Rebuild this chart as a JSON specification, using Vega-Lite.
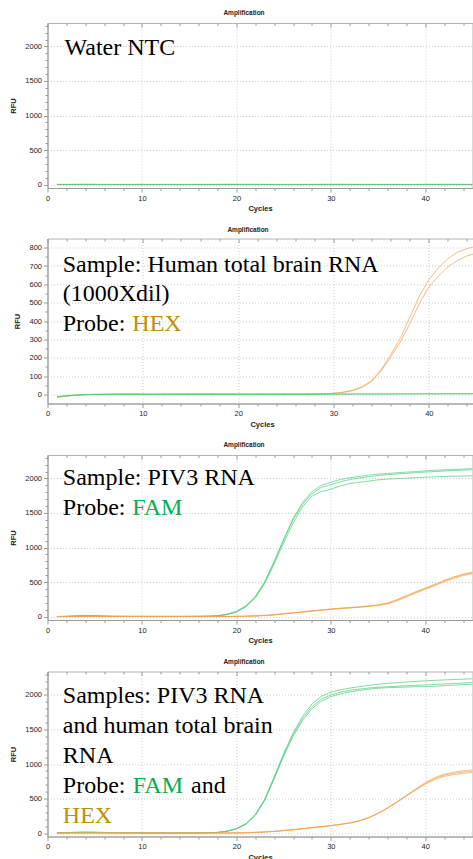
{
"$schema": "https://vega.github.io/schema/vega-lite/v6.json",
"padding": {"left": 8.5, "top": 9, "right": 0, "bottom": 0},
"spacing": 12.5,
"config": {
  "font": "Liberation Sans",
  "view": {"stroke": "#b4b4b4", "strokeWidth": 1},
  "axis": {"labelFont": "Liberation Sans", "labelFontSize": 7.5, "labelColor": "#222222", "titleFont": "Liberation Sans", "titleFontSize": 7.5, "titleFontWeight": "bold", "titleColor": "#222222", "domainColor": "#9a9a9a", "tickColor": "#9a9a9a", "gridColor": "#cccccc", "gridDash": [1, 2], "labelPadding": 2, "labelOverlap": false, "labelFlush": false},
  "title": {"font": "Liberation Sans", "fontSize": 6.5, "fontWeight": "bold", "color": "#222222", "offset": 5}
},
"datasets": {
"curves": [
{"p":1,"s":"1o1","d":"HEX","c":1,"v":1},{"p":1,"s":"1o1","d":"HEX","c":5,"v":2},{"p":1,"s":"1o1","d":"HEX","c":9,"v":1},{"p":1,"s":"1o1","d":"HEX","c":13,"v":2},{"p":1,"s":"1o1","d":"HEX","c":17,"v":1},{"p":1,"s":"1o1","d":"HEX","c":21,"v":2},{"p":1,"s":"1o1","d":"HEX","c":25,"v":1},{"p":1,"s":"1o1","d":"HEX","c":29,"v":2},{"p":1,"s":"1o1","d":"HEX","c":33,"v":1},{"p":1,"s":"1o1","d":"HEX","c":37,"v":2},{"p":1,"s":"1o1","d":"HEX","c":41,"v":1},{"p":1,"s":"1o1","d":"HEX","c":45,"v":2},
{"p":1,"s":"1o2","d":"HEX","c":1,"v":-1},{"p":1,"s":"1o2","d":"HEX","c":5,"v":0},{"p":1,"s":"1o2","d":"HEX","c":9,"v":1},{"p":1,"s":"1o2","d":"HEX","c":13,"v":0},{"p":1,"s":"1o2","d":"HEX","c":17,"v":-1},{"p":1,"s":"1o2","d":"HEX","c":21,"v":0},{"p":1,"s":"1o2","d":"HEX","c":25,"v":1},{"p":1,"s":"1o2","d":"HEX","c":29,"v":0},{"p":1,"s":"1o2","d":"HEX","c":33,"v":-1},{"p":1,"s":"1o2","d":"HEX","c":37,"v":0},{"p":1,"s":"1o2","d":"HEX","c":41,"v":1},{"p":1,"s":"1o2","d":"HEX","c":45,"v":0},
{"p":1,"s":"1g1","d":"FAM","c":1,"v":3},{"p":1,"s":"1g1","d":"FAM","c":4,"v":4},{"p":1,"s":"1g1","d":"FAM","c":7,"v":2},{"p":1,"s":"1g1","d":"FAM","c":10,"v":3},{"p":1,"s":"1g1","d":"FAM","c":13,"v":2},{"p":1,"s":"1g1","d":"FAM","c":16,"v":3},{"p":1,"s":"1g1","d":"FAM","c":19,"v":4},{"p":1,"s":"1g1","d":"FAM","c":22,"v":3},{"p":1,"s":"1g1","d":"FAM","c":25,"v":2},{"p":1,"s":"1g1","d":"FAM","c":28,"v":3},{"p":1,"s":"1g1","d":"FAM","c":31,"v":4},{"p":1,"s":"1g1","d":"FAM","c":34,"v":3},{"p":1,"s":"1g1","d":"FAM","c":37,"v":2},{"p":1,"s":"1g1","d":"FAM","c":40,"v":3},{"p":1,"s":"1g1","d":"FAM","c":43,"v":4},{"p":1,"s":"1g1","d":"FAM","c":45,"v":3},
{"p":1,"s":"1g2","d":"FAM","c":1,"v":0},{"p":1,"s":"1g2","d":"FAM","c":4,"v":1},{"p":1,"s":"1g2","d":"FAM","c":7,"v":0},{"p":1,"s":"1g2","d":"FAM","c":10,"v":-1},{"p":1,"s":"1g2","d":"FAM","c":13,"v":0},{"p":1,"s":"1g2","d":"FAM","c":16,"v":1},{"p":1,"s":"1g2","d":"FAM","c":19,"v":0},{"p":1,"s":"1g2","d":"FAM","c":22,"v":1},{"p":1,"s":"1g2","d":"FAM","c":25,"v":0},{"p":1,"s":"1g2","d":"FAM","c":28,"v":-1},{"p":1,"s":"1g2","d":"FAM","c":31,"v":0},{"p":1,"s":"1g2","d":"FAM","c":34,"v":1},{"p":1,"s":"1g2","d":"FAM","c":37,"v":0},{"p":1,"s":"1g2","d":"FAM","c":40,"v":1},{"p":1,"s":"1g2","d":"FAM","c":43,"v":0},{"p":1,"s":"1g2","d":"FAM","c":45,"v":0},

{"p":2,"s":"2o1","d":"HEX","c":1,"v":-15},{"p":2,"s":"2o1","d":"HEX","c":2,"v":-9},{"p":2,"s":"2o1","d":"HEX","c":3,"v":-4},{"p":2,"s":"2o1","d":"HEX","c":4,"v":-1},{"p":2,"s":"2o1","d":"HEX","c":5,"v":0},{"p":2,"s":"2o1","d":"HEX","c":8,"v":2},{"p":2,"s":"2o1","d":"HEX","c":11,"v":1},{"p":2,"s":"2o1","d":"HEX","c":14,"v":2},{"p":2,"s":"2o1","d":"HEX","c":17,"v":2},{"p":2,"s":"2o1","d":"HEX","c":20,"v":1},{"p":2,"s":"2o1","d":"HEX","c":23,"v":1},{"p":2,"s":"2o1","d":"HEX","c":26,"v":2},{"p":2,"s":"2o1","d":"HEX","c":28,"v":2},{"p":2,"s":"2o1","d":"HEX","c":29,"v":3},{"p":2,"s":"2o1","d":"HEX","c":30,"v":6},{"p":2,"s":"2o1","d":"HEX","c":31,"v":12},{"p":2,"s":"2o1","d":"HEX","c":32,"v":22},{"p":2,"s":"2o1","d":"HEX","c":33,"v":42},{"p":2,"s":"2o1","d":"HEX","c":34,"v":75},{"p":2,"s":"2o1","d":"HEX","c":35,"v":135},{"p":2,"s":"2o1","d":"HEX","c":36,"v":215},{"p":2,"s":"2o1","d":"HEX","c":37,"v":305},{"p":2,"s":"2o1","d":"HEX","c":38,"v":420},{"p":2,"s":"2o1","d":"HEX","c":39,"v":535},{"p":2,"s":"2o1","d":"HEX","c":40,"v":625},{"p":2,"s":"2o1","d":"HEX","c":41,"v":690},{"p":2,"s":"2o1","d":"HEX","c":42,"v":740},{"p":2,"s":"2o1","d":"HEX","c":43,"v":775},{"p":2,"s":"2o1","d":"HEX","c":44,"v":795},{"p":2,"s":"2o1","d":"HEX","c":45,"v":808},
{"p":2,"s":"2o2","d":"HEX","c":1,"v":-16},{"p":2,"s":"2o2","d":"HEX","c":2,"v":-10},{"p":2,"s":"2o2","d":"HEX","c":3,"v":-5},{"p":2,"s":"2o2","d":"HEX","c":4,"v":-2},{"p":2,"s":"2o2","d":"HEX","c":5,"v":-1},{"p":2,"s":"2o2","d":"HEX","c":8,"v":1},{"p":2,"s":"2o2","d":"HEX","c":11,"v":1},{"p":2,"s":"2o2","d":"HEX","c":14,"v":1},{"p":2,"s":"2o2","d":"HEX","c":17,"v":2},{"p":2,"s":"2o2","d":"HEX","c":20,"v":1},{"p":2,"s":"2o2","d":"HEX","c":23,"v":1},{"p":2,"s":"2o2","d":"HEX","c":26,"v":1},{"p":2,"s":"2o2","d":"HEX","c":28,"v":2},{"p":2,"s":"2o2","d":"HEX","c":29,"v":3},{"p":2,"s":"2o2","d":"HEX","c":30,"v":5},{"p":2,"s":"2o2","d":"HEX","c":31,"v":10},{"p":2,"s":"2o2","d":"HEX","c":32,"v":20},{"p":2,"s":"2o2","d":"HEX","c":33,"v":38},{"p":2,"s":"2o2","d":"HEX","c":34,"v":70},{"p":2,"s":"2o2","d":"HEX","c":35,"v":128},{"p":2,"s":"2o2","d":"HEX","c":36,"v":203},{"p":2,"s":"2o2","d":"HEX","c":37,"v":285},{"p":2,"s":"2o2","d":"HEX","c":38,"v":385},{"p":2,"s":"2o2","d":"HEX","c":39,"v":495},{"p":2,"s":"2o2","d":"HEX","c":40,"v":585},{"p":2,"s":"2o2","d":"HEX","c":41,"v":645},{"p":2,"s":"2o2","d":"HEX","c":42,"v":695},{"p":2,"s":"2o2","d":"HEX","c":43,"v":730},{"p":2,"s":"2o2","d":"HEX","c":44,"v":755},{"p":2,"s":"2o2","d":"HEX","c":45,"v":770},
{"p":2,"s":"2g1","d":"FAM","c":1,"v":-12},{"p":2,"s":"2g1","d":"FAM","c":2,"v":-7},{"p":2,"s":"2g1","d":"FAM","c":3,"v":-3},{"p":2,"s":"2g1","d":"FAM","c":4,"v":-1},{"p":2,"s":"2g1","d":"FAM","c":5,"v":0},{"p":2,"s":"2g1","d":"FAM","c":8,"v":1},{"p":2,"s":"2g1","d":"FAM","c":11,"v":0},{"p":2,"s":"2g1","d":"FAM","c":14,"v":1},{"p":2,"s":"2g1","d":"FAM","c":17,"v":0},{"p":2,"s":"2g1","d":"FAM","c":20,"v":1},{"p":2,"s":"2g1","d":"FAM","c":23,"v":0},{"p":2,"s":"2g1","d":"FAM","c":26,"v":1},{"p":2,"s":"2g1","d":"FAM","c":29,"v":1},{"p":2,"s":"2g1","d":"FAM","c":32,"v":2},{"p":2,"s":"2g1","d":"FAM","c":35,"v":2},{"p":2,"s":"2g1","d":"FAM","c":38,"v":3},{"p":2,"s":"2g1","d":"FAM","c":41,"v":3},{"p":2,"s":"2g1","d":"FAM","c":45,"v":4},
{"p":2,"s":"2g2","d":"FAM","c":1,"v":-14},{"p":2,"s":"2g2","d":"FAM","c":2,"v":-9},{"p":2,"s":"2g2","d":"FAM","c":3,"v":-5},{"p":2,"s":"2g2","d":"FAM","c":4,"v":-2},{"p":2,"s":"2g2","d":"FAM","c":5,"v":-1},{"p":2,"s":"2g2","d":"FAM","c":8,"v":0},{"p":2,"s":"2g2","d":"FAM","c":11,"v":-1},{"p":2,"s":"2g2","d":"FAM","c":14,"v":0},{"p":2,"s":"2g2","d":"FAM","c":17,"v":1},{"p":2,"s":"2g2","d":"FAM","c":20,"v":0},{"p":2,"s":"2g2","d":"FAM","c":23,"v":1},{"p":2,"s":"2g2","d":"FAM","c":26,"v":0},{"p":2,"s":"2g2","d":"FAM","c":29,"v":1},{"p":2,"s":"2g2","d":"FAM","c":32,"v":1},{"p":2,"s":"2g2","d":"FAM","c":35,"v":2},{"p":2,"s":"2g2","d":"FAM","c":38,"v":2},{"p":2,"s":"2g2","d":"FAM","c":41,"v":3},{"p":2,"s":"2g2","d":"FAM","c":45,"v":3},

{"p":3,"s":"3g1","d":"FAM","c":1,"v":0},{"p":3,"s":"3g1","d":"FAM","c":2,"v":3},{"p":3,"s":"3g1","d":"FAM","c":3,"v":8},{"p":3,"s":"3g1","d":"FAM","c":4,"v":12},{"p":3,"s":"3g1","d":"FAM","c":5,"v":10},{"p":3,"s":"3g1","d":"FAM","c":6,"v":6},{"p":3,"s":"3g1","d":"FAM","c":7,"v":3},{"p":3,"s":"3g1","d":"FAM","c":10,"v":2},{"p":3,"s":"3g1","d":"FAM","c":13,"v":2},{"p":3,"s":"3g1","d":"FAM","c":16,"v":3},{"p":3,"s":"3g1","d":"FAM","c":17,"v":5},{"p":3,"s":"3g1","d":"FAM","c":18,"v":12},{"p":3,"s":"3g1","d":"FAM","c":19,"v":33},{"p":3,"s":"3g1","d":"FAM","c":20,"v":75},{"p":3,"s":"3g1","d":"FAM","c":21,"v":155},{"p":3,"s":"3g1","d":"FAM","c":22,"v":290},{"p":3,"s":"3g1","d":"FAM","c":23,"v":505},{"p":3,"s":"3g1","d":"FAM","c":24,"v":800},{"p":3,"s":"3g1","d":"FAM","c":25,"v":1120},{"p":3,"s":"3g1","d":"FAM","c":26,"v":1420},{"p":3,"s":"3g1","d":"FAM","c":27,"v":1650},{"p":3,"s":"3g1","d":"FAM","c":28,"v":1810},{"p":3,"s":"3g1","d":"FAM","c":29,"v":1900},{"p":3,"s":"3g1","d":"FAM","c":30,"v":1945},{"p":3,"s":"3g1","d":"FAM","c":31,"v":1985},{"p":3,"s":"3g1","d":"FAM","c":32,"v":2010},{"p":3,"s":"3g1","d":"FAM","c":33,"v":2030},{"p":3,"s":"3g1","d":"FAM","c":34,"v":2048},{"p":3,"s":"3g1","d":"FAM","c":35,"v":2063},{"p":3,"s":"3g1","d":"FAM","c":36,"v":2073},{"p":3,"s":"3g1","d":"FAM","c":37,"v":2083},{"p":3,"s":"3g1","d":"FAM","c":38,"v":2092},{"p":3,"s":"3g1","d":"FAM","c":39,"v":2100},{"p":3,"s":"3g1","d":"FAM","c":40,"v":2110},{"p":3,"s":"3g1","d":"FAM","c":41,"v":2118},{"p":3,"s":"3g1","d":"FAM","c":42,"v":2125},{"p":3,"s":"3g1","d":"FAM","c":43,"v":2131},{"p":3,"s":"3g1","d":"FAM","c":44,"v":2137},{"p":3,"s":"3g1","d":"FAM","c":45,"v":2141},
{"p":3,"s":"3g2","d":"FAM","c":1,"v":-2},{"p":3,"s":"3g2","d":"FAM","c":2,"v":2},{"p":3,"s":"3g2","d":"FAM","c":3,"v":6},{"p":3,"s":"3g2","d":"FAM","c":4,"v":10},{"p":3,"s":"3g2","d":"FAM","c":5,"v":9},{"p":3,"s":"3g2","d":"FAM","c":6,"v":5},{"p":3,"s":"3g2","d":"FAM","c":7,"v":2},{"p":3,"s":"3g2","d":"FAM","c":10,"v":1},{"p":3,"s":"3g2","d":"FAM","c":13,"v":1},{"p":3,"s":"3g2","d":"FAM","c":16,"v":2},{"p":3,"s":"3g2","d":"FAM","c":17,"v":4},{"p":3,"s":"3g2","d":"FAM","c":18,"v":11},{"p":3,"s":"3g2","d":"FAM","c":19,"v":31},{"p":3,"s":"3g2","d":"FAM","c":20,"v":70},{"p":3,"s":"3g2","d":"FAM","c":21,"v":148},{"p":3,"s":"3g2","d":"FAM","c":22,"v":280},{"p":3,"s":"3g2","d":"FAM","c":23,"v":495},{"p":3,"s":"3g2","d":"FAM","c":24,"v":790},{"p":3,"s":"3g2","d":"FAM","c":25,"v":1105},{"p":3,"s":"3g2","d":"FAM","c":26,"v":1400},{"p":3,"s":"3g2","d":"FAM","c":27,"v":1625},{"p":3,"s":"3g2","d":"FAM","c":28,"v":1780},{"p":3,"s":"3g2","d":"FAM","c":29,"v":1870},{"p":3,"s":"3g2","d":"FAM","c":30,"v":1910},{"p":3,"s":"3g2","d":"FAM","c":31,"v":1950},{"p":3,"s":"3g2","d":"FAM","c":32,"v":1985},{"p":3,"s":"3g2","d":"FAM","c":33,"v":2005},{"p":3,"s":"3g2","d":"FAM","c":34,"v":2025},{"p":3,"s":"3g2","d":"FAM","c":35,"v":2043},{"p":3,"s":"3g2","d":"FAM","c":36,"v":2055},{"p":3,"s":"3g2","d":"FAM","c":37,"v":2065},{"p":3,"s":"3g2","d":"FAM","c":38,"v":2075},{"p":3,"s":"3g2","d":"FAM","c":39,"v":2084},{"p":3,"s":"3g2","d":"FAM","c":40,"v":2092},{"p":3,"s":"3g2","d":"FAM","c":41,"v":2100},{"p":3,"s":"3g2","d":"FAM","c":42,"v":2108},{"p":3,"s":"3g2","d":"FAM","c":43,"v":2115},{"p":3,"s":"3g2","d":"FAM","c":44,"v":2121},{"p":3,"s":"3g2","d":"FAM","c":45,"v":2126},
{"p":3,"s":"3g3","d":"FAM","c":1,"v":1},{"p":3,"s":"3g3","d":"FAM","c":2,"v":4},{"p":3,"s":"3g3","d":"FAM","c":3,"v":9},{"p":3,"s":"3g3","d":"FAM","c":4,"v":13},{"p":3,"s":"3g3","d":"FAM","c":5,"v":11},{"p":3,"s":"3g3","d":"FAM","c":6,"v":7},{"p":3,"s":"3g3","d":"FAM","c":7,"v":4},{"p":3,"s":"3g3","d":"FAM","c":10,"v":3},{"p":3,"s":"3g3","d":"FAM","c":13,"v":3},{"p":3,"s":"3g3","d":"FAM","c":16,"v":4},{"p":3,"s":"3g3","d":"FAM","c":17,"v":6},{"p":3,"s":"3g3","d":"FAM","c":18,"v":11},{"p":3,"s":"3g3","d":"FAM","c":19,"v":29},{"p":3,"s":"3g3","d":"FAM","c":20,"v":65},{"p":3,"s":"3g3","d":"FAM","c":21,"v":140},{"p":3,"s":"3g3","d":"FAM","c":22,"v":268},{"p":3,"s":"3g3","d":"FAM","c":23,"v":475},{"p":3,"s":"3g3","d":"FAM","c":24,"v":760},{"p":3,"s":"3g3","d":"FAM","c":25,"v":1065},{"p":3,"s":"3g3","d":"FAM","c":26,"v":1350},{"p":3,"s":"3g3","d":"FAM","c":27,"v":1590},{"p":3,"s":"3g3","d":"FAM","c":28,"v":1745},{"p":3,"s":"3g3","d":"FAM","c":29,"v":1810},{"p":3,"s":"3g3","d":"FAM","c":30,"v":1845},{"p":3,"s":"3g3","d":"FAM","c":31,"v":1890},{"p":3,"s":"3g3","d":"FAM","c":32,"v":1925},{"p":3,"s":"3g3","d":"FAM","c":33,"v":1945},{"p":3,"s":"3g3","d":"FAM","c":34,"v":1962},{"p":3,"s":"3g3","d":"FAM","c":35,"v":1980},{"p":3,"s":"3g3","d":"FAM","c":36,"v":1990},{"p":3,"s":"3g3","d":"FAM","c":37,"v":1998},{"p":3,"s":"3g3","d":"FAM","c":38,"v":2005},{"p":3,"s":"3g3","d":"FAM","c":39,"v":2012},{"p":3,"s":"3g3","d":"FAM","c":40,"v":2019},{"p":3,"s":"3g3","d":"FAM","c":41,"v":2024},{"p":3,"s":"3g3","d":"FAM","c":42,"v":2029},{"p":3,"s":"3g3","d":"FAM","c":43,"v":2033},{"p":3,"s":"3g3","d":"FAM","c":44,"v":2036},{"p":3,"s":"3g3","d":"FAM","c":45,"v":2039},
{"p":3,"s":"3o1","d":"HEX","c":1,"v":0},{"p":3,"s":"3o1","d":"HEX","c":4,"v":2},{"p":3,"s":"3o1","d":"HEX","c":7,"v":1},{"p":3,"s":"3o1","d":"HEX","c":10,"v":0},{"p":3,"s":"3o1","d":"HEX","c":13,"v":1},{"p":3,"s":"3o1","d":"HEX","c":16,"v":0},{"p":3,"s":"3o1","d":"HEX","c":19,"v":1},{"p":3,"s":"3o1","d":"HEX","c":20,"v":2},{"p":3,"s":"3o1","d":"HEX","c":21,"v":5},{"p":3,"s":"3o1","d":"HEX","c":22,"v":9},{"p":3,"s":"3o1","d":"HEX","c":23,"v":15},{"p":3,"s":"3o1","d":"HEX","c":24,"v":25},{"p":3,"s":"3o1","d":"HEX","c":25,"v":40},{"p":3,"s":"3o1","d":"HEX","c":26,"v":53},{"p":3,"s":"3o1","d":"HEX","c":27,"v":66},{"p":3,"s":"3o1","d":"HEX","c":28,"v":80},{"p":3,"s":"3o1","d":"HEX","c":29,"v":94},{"p":3,"s":"3o1","d":"HEX","c":30,"v":107},{"p":3,"s":"3o1","d":"HEX","c":31,"v":118},{"p":3,"s":"3o1","d":"HEX","c":32,"v":128},{"p":3,"s":"3o1","d":"HEX","c":33,"v":138},{"p":3,"s":"3o1","d":"HEX","c":34,"v":150},{"p":3,"s":"3o1","d":"HEX","c":35,"v":165},{"p":3,"s":"3o1","d":"HEX","c":36,"v":190},{"p":3,"s":"3o1","d":"HEX","c":37,"v":238},{"p":3,"s":"3o1","d":"HEX","c":38,"v":295},{"p":3,"s":"3o1","d":"HEX","c":39,"v":352},{"p":3,"s":"3o1","d":"HEX","c":40,"v":405},{"p":3,"s":"3o1","d":"HEX","c":41,"v":458},{"p":3,"s":"3o1","d":"HEX","c":42,"v":515},{"p":3,"s":"3o1","d":"HEX","c":43,"v":565},{"p":3,"s":"3o1","d":"HEX","c":44,"v":605},{"p":3,"s":"3o1","d":"HEX","c":45,"v":635},
{"p":3,"s":"3o2","d":"HEX","c":1,"v":1},{"p":3,"s":"3o2","d":"HEX","c":4,"v":0},{"p":3,"s":"3o2","d":"HEX","c":7,"v":2},{"p":3,"s":"3o2","d":"HEX","c":10,"v":1},{"p":3,"s":"3o2","d":"HEX","c":13,"v":0},{"p":3,"s":"3o2","d":"HEX","c":16,"v":1},{"p":3,"s":"3o2","d":"HEX","c":19,"v":0},{"p":3,"s":"3o2","d":"HEX","c":20,"v":1},{"p":3,"s":"3o2","d":"HEX","c":21,"v":4},{"p":3,"s":"3o2","d":"HEX","c":22,"v":8},{"p":3,"s":"3o2","d":"HEX","c":23,"v":14},{"p":3,"s":"3o2","d":"HEX","c":24,"v":23},{"p":3,"s":"3o2","d":"HEX","c":25,"v":38},{"p":3,"s":"3o2","d":"HEX","c":26,"v":51},{"p":3,"s":"3o2","d":"HEX","c":27,"v":63},{"p":3,"s":"3o2","d":"HEX","c":28,"v":77},{"p":3,"s":"3o2","d":"HEX","c":29,"v":90},{"p":3,"s":"3o2","d":"HEX","c":30,"v":103},{"p":3,"s":"3o2","d":"HEX","c":31,"v":114},{"p":3,"s":"3o2","d":"HEX","c":32,"v":124},{"p":3,"s":"3o2","d":"HEX","c":33,"v":134},{"p":3,"s":"3o2","d":"HEX","c":34,"v":146},{"p":3,"s":"3o2","d":"HEX","c":35,"v":160},{"p":3,"s":"3o2","d":"HEX","c":36,"v":183},{"p":3,"s":"3o2","d":"HEX","c":37,"v":228},{"p":3,"s":"3o2","d":"HEX","c":38,"v":283},{"p":3,"s":"3o2","d":"HEX","c":39,"v":340},{"p":3,"s":"3o2","d":"HEX","c":40,"v":393},{"p":3,"s":"3o2","d":"HEX","c":41,"v":446},{"p":3,"s":"3o2","d":"HEX","c":42,"v":503},{"p":3,"s":"3o2","d":"HEX","c":43,"v":552},{"p":3,"s":"3o2","d":"HEX","c":44,"v":592},{"p":3,"s":"3o2","d":"HEX","c":45,"v":622},
{"p":3,"s":"3o3","d":"HEX","c":1,"v":-1},{"p":3,"s":"3o3","d":"HEX","c":4,"v":1},{"p":3,"s":"3o3","d":"HEX","c":7,"v":0},{"p":3,"s":"3o3","d":"HEX","c":10,"v":2},{"p":3,"s":"3o3","d":"HEX","c":13,"v":1},{"p":3,"s":"3o3","d":"HEX","c":16,"v":0},{"p":3,"s":"3o3","d":"HEX","c":19,"v":2},{"p":3,"s":"3o3","d":"HEX","c":20,"v":3},{"p":3,"s":"3o3","d":"HEX","c":21,"v":6},{"p":3,"s":"3o3","d":"HEX","c":22,"v":11},{"p":3,"s":"3o3","d":"HEX","c":23,"v":17},{"p":3,"s":"3o3","d":"HEX","c":24,"v":27},{"p":3,"s":"3o3","d":"HEX","c":25,"v":43},{"p":3,"s":"3o3","d":"HEX","c":26,"v":56},{"p":3,"s":"3o3","d":"HEX","c":27,"v":70},{"p":3,"s":"3o3","d":"HEX","c":28,"v":83},{"p":3,"s":"3o3","d":"HEX","c":29,"v":97},{"p":3,"s":"3o3","d":"HEX","c":30,"v":110},{"p":3,"s":"3o3","d":"HEX","c":31,"v":121},{"p":3,"s":"3o3","d":"HEX","c":32,"v":131},{"p":3,"s":"3o3","d":"HEX","c":33,"v":141},{"p":3,"s":"3o3","d":"HEX","c":34,"v":154},{"p":3,"s":"3o3","d":"HEX","c":35,"v":170},{"p":3,"s":"3o3","d":"HEX","c":36,"v":196},{"p":3,"s":"3o3","d":"HEX","c":37,"v":246},{"p":3,"s":"3o3","d":"HEX","c":38,"v":303},{"p":3,"s":"3o3","d":"HEX","c":39,"v":361},{"p":3,"s":"3o3","d":"HEX","c":40,"v":415},{"p":3,"s":"3o3","d":"HEX","c":41,"v":468},{"p":3,"s":"3o3","d":"HEX","c":42,"v":525},{"p":3,"s":"3o3","d":"HEX","c":43,"v":575},{"p":3,"s":"3o3","d":"HEX","c":44,"v":614},{"p":3,"s":"3o3","d":"HEX","c":45,"v":642},

{"p":4,"s":"4g1","d":"FAM","c":1,"v":2},{"p":4,"s":"4g1","d":"FAM","c":2,"v":6},{"p":4,"s":"4g1","d":"FAM","c":3,"v":10},{"p":4,"s":"4g1","d":"FAM","c":4,"v":12},{"p":4,"s":"4g1","d":"FAM","c":5,"v":11},{"p":4,"s":"4g1","d":"FAM","c":6,"v":8},{"p":4,"s":"4g1","d":"FAM","c":7,"v":5},{"p":4,"s":"4g1","d":"FAM","c":10,"v":3},{"p":4,"s":"4g1","d":"FAM","c":13,"v":2},{"p":4,"s":"4g1","d":"FAM","c":16,"v":3},{"p":4,"s":"4g1","d":"FAM","c":17,"v":5},{"p":4,"s":"4g1","d":"FAM","c":18,"v":10},{"p":4,"s":"4g1","d":"FAM","c":19,"v":28},{"p":4,"s":"4g1","d":"FAM","c":20,"v":65},{"p":4,"s":"4g1","d":"FAM","c":21,"v":135},{"p":4,"s":"4g1","d":"FAM","c":22,"v":270},{"p":4,"s":"4g1","d":"FAM","c":23,"v":490},{"p":4,"s":"4g1","d":"FAM","c":24,"v":815},{"p":4,"s":"4g1","d":"FAM","c":25,"v":1150},{"p":4,"s":"4g1","d":"FAM","c":26,"v":1450},{"p":4,"s":"4g1","d":"FAM","c":27,"v":1690},{"p":4,"s":"4g1","d":"FAM","c":28,"v":1870},{"p":4,"s":"4g1","d":"FAM","c":29,"v":1980},{"p":4,"s":"4g1","d":"FAM","c":30,"v":2040},{"p":4,"s":"4g1","d":"FAM","c":31,"v":2075},{"p":4,"s":"4g1","d":"FAM","c":32,"v":2100},{"p":4,"s":"4g1","d":"FAM","c":33,"v":2120},{"p":4,"s":"4g1","d":"FAM","c":34,"v":2140},{"p":4,"s":"4g1","d":"FAM","c":35,"v":2156},{"p":4,"s":"4g1","d":"FAM","c":36,"v":2168},{"p":4,"s":"4g1","d":"FAM","c":37,"v":2178},{"p":4,"s":"4g1","d":"FAM","c":38,"v":2188},{"p":4,"s":"4g1","d":"FAM","c":39,"v":2197},{"p":4,"s":"4g1","d":"FAM","c":40,"v":2205},{"p":4,"s":"4g1","d":"FAM","c":41,"v":2212},{"p":4,"s":"4g1","d":"FAM","c":42,"v":2218},{"p":4,"s":"4g1","d":"FAM","c":43,"v":2224},{"p":4,"s":"4g1","d":"FAM","c":44,"v":2229},{"p":4,"s":"4g1","d":"FAM","c":45,"v":2234},
{"p":4,"s":"4g2","d":"FAM","c":1,"v":0},{"p":4,"s":"4g2","d":"FAM","c":2,"v":4},{"p":4,"s":"4g2","d":"FAM","c":3,"v":8},{"p":4,"s":"4g2","d":"FAM","c":4,"v":10},{"p":4,"s":"4g2","d":"FAM","c":5,"v":9},{"p":4,"s":"4g2","d":"FAM","c":6,"v":6},{"p":4,"s":"4g2","d":"FAM","c":7,"v":3},{"p":4,"s":"4g2","d":"FAM","c":10,"v":2},{"p":4,"s":"4g2","d":"FAM","c":13,"v":1},{"p":4,"s":"4g2","d":"FAM","c":16,"v":2},{"p":4,"s":"4g2","d":"FAM","c":17,"v":4},{"p":4,"s":"4g2","d":"FAM","c":18,"v":9},{"p":4,"s":"4g2","d":"FAM","c":19,"v":26},{"p":4,"s":"4g2","d":"FAM","c":20,"v":62},{"p":4,"s":"4g2","d":"FAM","c":21,"v":130},{"p":4,"s":"4g2","d":"FAM","c":22,"v":262},{"p":4,"s":"4g2","d":"FAM","c":23,"v":480},{"p":4,"s":"4g2","d":"FAM","c":24,"v":800},{"p":4,"s":"4g2","d":"FAM","c":25,"v":1130},{"p":4,"s":"4g2","d":"FAM","c":26,"v":1425},{"p":4,"s":"4g2","d":"FAM","c":27,"v":1660},{"p":4,"s":"4g2","d":"FAM","c":28,"v":1830},{"p":4,"s":"4g2","d":"FAM","c":29,"v":1940},{"p":4,"s":"4g2","d":"FAM","c":30,"v":2000},{"p":4,"s":"4g2","d":"FAM","c":31,"v":2040},{"p":4,"s":"4g2","d":"FAM","c":32,"v":2068},{"p":4,"s":"4g2","d":"FAM","c":33,"v":2085},{"p":4,"s":"4g2","d":"FAM","c":34,"v":2100},{"p":4,"s":"4g2","d":"FAM","c":35,"v":2112},{"p":4,"s":"4g2","d":"FAM","c":36,"v":2120},{"p":4,"s":"4g2","d":"FAM","c":37,"v":2127},{"p":4,"s":"4g2","d":"FAM","c":38,"v":2134},{"p":4,"s":"4g2","d":"FAM","c":39,"v":2140},{"p":4,"s":"4g2","d":"FAM","c":40,"v":2146},{"p":4,"s":"4g2","d":"FAM","c":41,"v":2152},{"p":4,"s":"4g2","d":"FAM","c":42,"v":2160},{"p":4,"s":"4g2","d":"FAM","c":43,"v":2167},{"p":4,"s":"4g2","d":"FAM","c":44,"v":2174},{"p":4,"s":"4g2","d":"FAM","c":45,"v":2180},
{"p":4,"s":"4g3","d":"FAM","c":1,"v":3},{"p":4,"s":"4g3","d":"FAM","c":2,"v":7},{"p":4,"s":"4g3","d":"FAM","c":3,"v":11},{"p":4,"s":"4g3","d":"FAM","c":4,"v":13},{"p":4,"s":"4g3","d":"FAM","c":5,"v":12},{"p":4,"s":"4g3","d":"FAM","c":6,"v":9},{"p":4,"s":"4g3","d":"FAM","c":7,"v":6},{"p":4,"s":"4g3","d":"FAM","c":10,"v":4},{"p":4,"s":"4g3","d":"FAM","c":13,"v":3},{"p":4,"s":"4g3","d":"FAM","c":16,"v":4},{"p":4,"s":"4g3","d":"FAM","c":17,"v":6},{"p":4,"s":"4g3","d":"FAM","c":18,"v":9},{"p":4,"s":"4g3","d":"FAM","c":19,"v":24},{"p":4,"s":"4g3","d":"FAM","c":20,"v":58},{"p":4,"s":"4g3","d":"FAM","c":21,"v":125},{"p":4,"s":"4g3","d":"FAM","c":22,"v":255},{"p":4,"s":"4g3","d":"FAM","c":23,"v":470},{"p":4,"s":"4g3","d":"FAM","c":24,"v":785},{"p":4,"s":"4g3","d":"FAM","c":25,"v":1110},{"p":4,"s":"4g3","d":"FAM","c":26,"v":1400},{"p":4,"s":"4g3","d":"FAM","c":27,"v":1630},{"p":4,"s":"4g3","d":"FAM","c":28,"v":1800},{"p":4,"s":"4g3","d":"FAM","c":29,"v":1910},{"p":4,"s":"4g3","d":"FAM","c":30,"v":1976},{"p":4,"s":"4g3","d":"FAM","c":31,"v":2015},{"p":4,"s":"4g3","d":"FAM","c":32,"v":2045},{"p":4,"s":"4g3","d":"FAM","c":33,"v":2065},{"p":4,"s":"4g3","d":"FAM","c":34,"v":2082},{"p":4,"s":"4g3","d":"FAM","c":35,"v":2098},{"p":4,"s":"4g3","d":"FAM","c":36,"v":2105},{"p":4,"s":"4g3","d":"FAM","c":37,"v":2110},{"p":4,"s":"4g3","d":"FAM","c":38,"v":2115},{"p":4,"s":"4g3","d":"FAM","c":39,"v":2119},{"p":4,"s":"4g3","d":"FAM","c":40,"v":2122},{"p":4,"s":"4g3","d":"FAM","c":41,"v":2127},{"p":4,"s":"4g3","d":"FAM","c":42,"v":2135},{"p":4,"s":"4g3","d":"FAM","c":43,"v":2142},{"p":4,"s":"4g3","d":"FAM","c":44,"v":2150},{"p":4,"s":"4g3","d":"FAM","c":45,"v":2156},
{"p":4,"s":"4o1","d":"HEX","c":1,"v":0},{"p":4,"s":"4o1","d":"HEX","c":4,"v":1},{"p":4,"s":"4o1","d":"HEX","c":7,"v":0},{"p":4,"s":"4o1","d":"HEX","c":10,"v":1},{"p":4,"s":"4o1","d":"HEX","c":13,"v":0},{"p":4,"s":"4o1","d":"HEX","c":16,"v":1},{"p":4,"s":"4o1","d":"HEX","c":19,"v":1},{"p":4,"s":"4o1","d":"HEX","c":20,"v":2},{"p":4,"s":"4o1","d":"HEX","c":21,"v":5},{"p":4,"s":"4o1","d":"HEX","c":22,"v":10},{"p":4,"s":"4o1","d":"HEX","c":23,"v":15},{"p":4,"s":"4o1","d":"HEX","c":24,"v":24},{"p":4,"s":"4o1","d":"HEX","c":25,"v":36},{"p":4,"s":"4o1","d":"HEX","c":26,"v":48},{"p":4,"s":"4o1","d":"HEX","c":27,"v":62},{"p":4,"s":"4o1","d":"HEX","c":28,"v":78},{"p":4,"s":"4o1","d":"HEX","c":29,"v":92},{"p":4,"s":"4o1","d":"HEX","c":30,"v":107},{"p":4,"s":"4o1","d":"HEX","c":31,"v":125},{"p":4,"s":"4o1","d":"HEX","c":32,"v":145},{"p":4,"s":"4o1","d":"HEX","c":33,"v":175},{"p":4,"s":"4o1","d":"HEX","c":34,"v":220},{"p":4,"s":"4o1","d":"HEX","c":35,"v":283},{"p":4,"s":"4o1","d":"HEX","c":36,"v":360},{"p":4,"s":"4o1","d":"HEX","c":37,"v":445},{"p":4,"s":"4o1","d":"HEX","c":38,"v":535},{"p":4,"s":"4o1","d":"HEX","c":39,"v":625},{"p":4,"s":"4o1","d":"HEX","c":40,"v":708},{"p":4,"s":"4o1","d":"HEX","c":41,"v":775},{"p":4,"s":"4o1","d":"HEX","c":42,"v":820},{"p":4,"s":"4o1","d":"HEX","c":43,"v":848},{"p":4,"s":"4o1","d":"HEX","c":44,"v":865},{"p":4,"s":"4o1","d":"HEX","c":45,"v":878},
{"p":4,"s":"4o2","d":"HEX","c":1,"v":1},{"p":4,"s":"4o2","d":"HEX","c":4,"v":0},{"p":4,"s":"4o2","d":"HEX","c":7,"v":2},{"p":4,"s":"4o2","d":"HEX","c":10,"v":0},{"p":4,"s":"4o2","d":"HEX","c":13,"v":1},{"p":4,"s":"4o2","d":"HEX","c":16,"v":0},{"p":4,"s":"4o2","d":"HEX","c":19,"v":2},{"p":4,"s":"4o2","d":"HEX","c":20,"v":3},{"p":4,"s":"4o2","d":"HEX","c":21,"v":6},{"p":4,"s":"4o2","d":"HEX","c":22,"v":11},{"p":4,"s":"4o2","d":"HEX","c":23,"v":16},{"p":4,"s":"4o2","d":"HEX","c":24,"v":25},{"p":4,"s":"4o2","d":"HEX","c":25,"v":37},{"p":4,"s":"4o2","d":"HEX","c":26,"v":50},{"p":4,"s":"4o2","d":"HEX","c":27,"v":64},{"p":4,"s":"4o2","d":"HEX","c":28,"v":80},{"p":4,"s":"4o2","d":"HEX","c":29,"v":94},{"p":4,"s":"4o2","d":"HEX","c":30,"v":109},{"p":4,"s":"4o2","d":"HEX","c":31,"v":127},{"p":4,"s":"4o2","d":"HEX","c":32,"v":147},{"p":4,"s":"4o2","d":"HEX","c":33,"v":178},{"p":4,"s":"4o2","d":"HEX","c":34,"v":224},{"p":4,"s":"4o2","d":"HEX","c":35,"v":288},{"p":4,"s":"4o2","d":"HEX","c":36,"v":366},{"p":4,"s":"4o2","d":"HEX","c":37,"v":452},{"p":4,"s":"4o2","d":"HEX","c":38,"v":545},{"p":4,"s":"4o2","d":"HEX","c":39,"v":640},{"p":4,"s":"4o2","d":"HEX","c":40,"v":730},{"p":4,"s":"4o2","d":"HEX","c":41,"v":805},{"p":4,"s":"4o2","d":"HEX","c":42,"v":852},{"p":4,"s":"4o2","d":"HEX","c":43,"v":882},{"p":4,"s":"4o2","d":"HEX","c":44,"v":902},{"p":4,"s":"4o2","d":"HEX","c":45,"v":915},
{"p":4,"s":"4o3","d":"HEX","c":1,"v":-1},{"p":4,"s":"4o3","d":"HEX","c":4,"v":1},{"p":4,"s":"4o3","d":"HEX","c":7,"v":1},{"p":4,"s":"4o3","d":"HEX","c":10,"v":2},{"p":4,"s":"4o3","d":"HEX","c":13,"v":0},{"p":4,"s":"4o3","d":"HEX","c":16,"v":1},{"p":4,"s":"4o3","d":"HEX","c":19,"v":0},{"p":4,"s":"4o3","d":"HEX","c":20,"v":2},{"p":4,"s":"4o3","d":"HEX","c":21,"v":4},{"p":4,"s":"4o3","d":"HEX","c":22,"v":9},{"p":4,"s":"4o3","d":"HEX","c":23,"v":14},{"p":4,"s":"4o3","d":"HEX","c":24,"v":23},{"p":4,"s":"4o3","d":"HEX","c":25,"v":35},{"p":4,"s":"4o3","d":"HEX","c":26,"v":47},{"p":4,"s":"4o3","d":"HEX","c":27,"v":61},{"p":4,"s":"4o3","d":"HEX","c":28,"v":77},{"p":4,"s":"4o3","d":"HEX","c":29,"v":91},{"p":4,"s":"4o3","d":"HEX","c":30,"v":106},{"p":4,"s":"4o3","d":"HEX","c":31,"v":124},{"p":4,"s":"4o3","d":"HEX","c":32,"v":144},{"p":4,"s":"4o3","d":"HEX","c":33,"v":176},{"p":4,"s":"4o3","d":"HEX","c":34,"v":222},{"p":4,"s":"4o3","d":"HEX","c":35,"v":285},{"p":4,"s":"4o3","d":"HEX","c":36,"v":363},{"p":4,"s":"4o3","d":"HEX","c":37,"v":448},{"p":4,"s":"4o3","d":"HEX","c":38,"v":540},{"p":4,"s":"4o3","d":"HEX","c":39,"v":632},{"p":4,"s":"4o3","d":"HEX","c":40,"v":718},{"p":4,"s":"4o3","d":"HEX","c":41,"v":790},{"p":4,"s":"4o3","d":"HEX","c":42,"v":836},{"p":4,"s":"4o3","d":"HEX","c":43,"v":865},{"p":4,"s":"4o3","d":"HEX","c":44,"v":884},{"p":4,"s":"4o3","d":"HEX","c":45,"v":896}
],
"notes": [
{"p":1,"c":1.8,"v":1883,"t":"Water NTC","k":"txt"},
{"p":2,"c":1.6,"v":670,"t":"Sample: Human total brain RNA","k":"txt"},
{"p":2,"c":1.6,"v":508,"t":"(1000Xdil)","k":"txt"},
{"p":2,"c":1.6,"v":348,"t":"Probe:","k":"txt"},
{"p":2,"c":8.9,"v":348,"t":"HEX","k":"HEX"},
{"p":3,"c":1.62,"v":1904,"t":"Sample: PIV3 RNA","k":"txt"},
{"p":3,"c":1.62,"v":1468,"t":"Probe:","k":"txt"},
{"p":3,"c":8.97,"v":1468,"t":"FAM","k":"FAM"},
{"p":4,"c":1.62,"v":1890,"t":"Samples: PIV3 RNA","k":"txt"},
{"p":4,"c":1.62,"v":1455,"t":"and human total brain","k":"txt"},
{"p":4,"c":1.62,"v":1020,"t":"RNA","k":"txt"},
{"p":4,"c":1.62,"v":585,"t":"Probe:","k":"txt"},
{"p":4,"c":9.03,"v":585,"t":"FAM","k":"FAM"},
{"p":4,"c":15.2,"v":585,"t":"and","k":"txt"},
{"p":4,"c":1.62,"v":150,"t":"HEX","k":"HEX"}
]
},
"vconcat": [
{
 "width": 425, "height": 165,
 "title": {"text": "Amplification", "dx": -16},
 "resolve": {"axis": {"x": "independent"}},
 "encoding": {
  "y": {"field": "v", "type": "quantitative", "title": "RFU", "scale": {"domain": [-50, 2340], "nice": false, "zero": false},
    "axis": {"values": [0,100,200,300,400,500,600,700,800,900,1000,1100,1200,1300,1400,1500,1600,1700,1800,1900,2000,2100,2200,2300], "format": "d", "labelExpr": "datum.value % 500 === 0 ? datum.label : ''", "tickSize": {"condition": {"test": "datum.value % 500 === 0", "value": 4}, "value": 2.5}, "gridOpacity": {"condition": {"test": "datum.value % 500 === 0", "value": 1}, "value": 0}, "labelOverlap": false, "titlePadding": 7}}
 },
 "layer": [
  {"data": {"name": "curves"}, "transform": [{"filter": "datum.p == 1"}],
   "mark": {"type": "line", "strokeWidth": 1, "opacity": 0.7, "clip": true},
   "encoding": {
    "x": {"field": "c", "type": "quantitative", "title": "Cycles", "scale": {"domain": [0, 45], "nice": false, "zero": false},
      "axis": {"values": [0,2,4,6,8,10,12,14,16,18,20,22,24,26,28,30,32,34,36,38,40,42,44], "format": "d", "labelExpr": "datum.value % 10 === 0 ? datum.label : ''", "tickSize": {"condition": {"test": "datum.value % 10 === 0", "value": 4}, "value": 2.5}, "gridOpacity": {"condition": {"test": "datum.value % 10 === 0", "value": 1}, "value": 0}, "labelOverlap": false, "titlePadding": 3}},
    "stroke": {"field": "d", "type": "nominal", "scale": {"domain": ["FAM", "HEX"], "range": ["#4fcc7c", "#f2a452"]}, "legend": null},
    "detail": {"field": "s"}
   }},
  {"data": {"name": "notes"}, "transform": [{"filter": "datum.p == 1"}],
   "mark": {"type": "text", "font": "Liberation Serif", "fontSize": 24, "align": "left", "baseline": "alphabetic"},
   "encoding": {
    "x": {"field": "c", "type": "quantitative", "axis": {"orient": "top", "title": null, "labels": false, "grid": false, "domain": false, "values": [0,2,4,6,8,10,12,14,16,18,20,22,24,26,28,30,32,34,36,38,40,42,44], "tickSize": {"condition": {"test": "datum.value % 10 === 0", "value": -4}, "value": -2.5}}},
    "text": {"field": "t"},
    "fill": {"field": "k", "type": "nominal", "scale": {"domain": ["txt", "FAM", "HEX"], "range": ["#000000", "#00b050", "#bf9000"]}, "legend": null}
   }}
 ]
},
{
 "width": 429, "height": 165,
 "title": {"text": "Amplification", "dx": -14},
 "resolve": {"axis": {"x": "independent"}},
 "encoding": {
  "y": {"field": "v", "type": "quantitative", "title": "RFU", "scale": {"domain": [-50, 850], "nice": false, "zero": false},
    "axis": {"values": [0,50,100,150,200,250,300,350,400,450,500,550,600,650,700,750,800], "format": "d", "labelExpr": "datum.value % 100 === 0 ? datum.label : ''", "tickSize": {"condition": {"test": "datum.value % 100 === 0", "value": 4}, "value": 2.5}, "gridOpacity": {"condition": {"test": "datum.value % 100 === 0", "value": 1}, "value": 0}, "labelOverlap": false, "titlePadding": 7}}
 },
 "layer": [
  {"data": {"name": "curves"}, "transform": [{"filter": "datum.p == 2"}],
   "mark": {"type": "line", "strokeWidth": 1, "opacity": 0.7, "clip": true},
   "encoding": {
    "x": {"field": "c", "type": "quantitative", "title": "Cycles", "scale": {"domain": [0, 45], "nice": false, "zero": false},
      "axis": {"values": [0,2,4,6,8,10,12,14,16,18,20,22,24,26,28,30,32,34,36,38,40,42,44], "format": "d", "labelExpr": "datum.value % 10 === 0 ? datum.label : ''", "tickSize": {"condition": {"test": "datum.value % 10 === 0", "value": 4}, "value": 2.5}, "gridOpacity": {"condition": {"test": "datum.value % 10 === 0", "value": 1}, "value": 0}, "labelOverlap": false, "titlePadding": 3}},
    "stroke": {"field": "d", "type": "nominal", "scale": {"domain": ["FAM", "HEX"], "range": ["#4fcc7c", "#f2a452"]}, "legend": null},
    "detail": {"field": "s"}
   }},
  {"data": {"name": "notes"}, "transform": [{"filter": "datum.p == 2"}],
   "mark": {"type": "text", "font": "Liberation Serif", "fontSize": 24, "align": "left", "baseline": "alphabetic"},
   "encoding": {
    "x": {"field": "c", "type": "quantitative", "axis": {"orient": "top", "title": null, "labels": false, "grid": false, "domain": false, "values": [0,2,4,6,8,10,12,14,16,18,20,22,24,26,28,30,32,34,36,38,40,42,44], "tickSize": {"condition": {"test": "datum.value % 10 === 0", "value": -4}, "value": -2.5}}},
    "text": {"field": "t"},
    "fill": {"field": "k", "type": "nominal", "scale": {"domain": ["txt", "FAM", "HEX"], "range": ["#000000", "#00b050", "#bf9000"]}, "legend": null}
   }}
 ]
},
{
 "width": 425, "height": 165,
 "title": {"text": "Amplification", "dx": -16},
 "resolve": {"axis": {"x": "independent"}},
 "encoding": {
  "y": {"field": "v", "type": "quantitative", "title": "RFU", "scale": {"domain": [-50, 2340], "nice": false, "zero": false},
    "axis": {"values": [0,100,200,300,400,500,600,700,800,900,1000,1100,1200,1300,1400,1500,1600,1700,1800,1900,2000,2100,2200,2300], "format": "d", "labelExpr": "datum.value % 500 === 0 ? datum.label : ''", "tickSize": {"condition": {"test": "datum.value % 500 === 0", "value": 4}, "value": 2.5}, "gridOpacity": {"condition": {"test": "datum.value % 500 === 0", "value": 1}, "value": 0}, "labelOverlap": false, "titlePadding": 7}}
 },
 "layer": [
  {"data": {"name": "curves"}, "transform": [{"filter": "datum.p == 3"}],
   "mark": {"type": "line", "strokeWidth": 1, "opacity": 0.7, "clip": true},
   "encoding": {
    "x": {"field": "c", "type": "quantitative", "title": "Cycles", "scale": {"domain": [0, 45], "nice": false, "zero": false},
      "axis": {"values": [0,2,4,6,8,10,12,14,16,18,20,22,24,26,28,30,32,34,36,38,40,42,44], "format": "d", "labelExpr": "datum.value % 10 === 0 ? datum.label : ''", "tickSize": {"condition": {"test": "datum.value % 10 === 0", "value": 4}, "value": 2.5}, "gridOpacity": {"condition": {"test": "datum.value % 10 === 0", "value": 1}, "value": 0}, "labelOverlap": false, "titlePadding": 3}},
    "stroke": {"field": "d", "type": "nominal", "scale": {"domain": ["FAM", "HEX"], "range": ["#4fcc7c", "#f2a452"]}, "legend": null},
    "detail": {"field": "s"}
   }},
  {"data": {"name": "notes"}, "transform": [{"filter": "datum.p == 3"}],
   "mark": {"type": "text", "font": "Liberation Serif", "fontSize": 24, "align": "left", "baseline": "alphabetic"},
   "encoding": {
    "x": {"field": "c", "type": "quantitative", "axis": {"orient": "top", "title": null, "labels": false, "grid": false, "domain": false, "values": [0,2,4,6,8,10,12,14,16,18,20,22,24,26,28,30,32,34,36,38,40,42,44], "tickSize": {"condition": {"test": "datum.value % 10 === 0", "value": -4}, "value": -2.5}}},
    "text": {"field": "t"},
    "fill": {"field": "k", "type": "nominal", "scale": {"domain": ["txt", "FAM", "HEX"], "range": ["#000000", "#00b050", "#bf9000"]}, "legend": null}
   }}
 ]
},
{
 "width": 425, "height": 165,
 "title": {"text": "Amplification", "dx": -16},
 "resolve": {"axis": {"x": "independent"}},
 "encoding": {
  "y": {"field": "v", "type": "quantitative", "title": "RFU", "scale": {"domain": [-50, 2340], "nice": false, "zero": false},
    "axis": {"values": [0,100,200,300,400,500,600,700,800,900,1000,1100,1200,1300,1400,1500,1600,1700,1800,1900,2000,2100,2200,2300], "format": "d", "labelExpr": "datum.value % 500 === 0 ? datum.label : ''", "tickSize": {"condition": {"test": "datum.value % 500 === 0", "value": 4}, "value": 2.5}, "gridOpacity": {"condition": {"test": "datum.value % 500 === 0", "value": 1}, "value": 0}, "labelOverlap": false, "titlePadding": 7}}
 },
 "layer": [
  {"data": {"name": "curves"}, "transform": [{"filter": "datum.p == 4"}],
   "mark": {"type": "line", "strokeWidth": 1, "opacity": 0.7, "clip": true},
   "encoding": {
    "x": {"field": "c", "type": "quantitative", "title": "Cycles", "scale": {"domain": [0, 45], "nice": false, "zero": false},
      "axis": {"values": [0,2,4,6,8,10,12,14,16,18,20,22,24,26,28,30,32,34,36,38,40,42,44], "format": "d", "labelExpr": "datum.value % 10 === 0 ? datum.label : ''", "tickSize": {"condition": {"test": "datum.value % 10 === 0", "value": 4}, "value": 2.5}, "gridOpacity": {"condition": {"test": "datum.value % 10 === 0", "value": 1}, "value": 0}, "labelOverlap": false, "titlePadding": 3}},
    "stroke": {"field": "d", "type": "nominal", "scale": {"domain": ["FAM", "HEX"], "range": ["#4fcc7c", "#f2a452"]}, "legend": null},
    "detail": {"field": "s"}
   }},
  {"data": {"name": "notes"}, "transform": [{"filter": "datum.p == 4"}],
   "mark": {"type": "text", "font": "Liberation Serif", "fontSize": 24, "align": "left", "baseline": "alphabetic"},
   "encoding": {
    "x": {"field": "c", "type": "quantitative", "axis": {"orient": "top", "title": null, "labels": false, "grid": false, "domain": false, "values": [0,2,4,6,8,10,12,14,16,18,20,22,24,26,28,30,32,34,36,38,40,42,44], "tickSize": {"condition": {"test": "datum.value % 10 === 0", "value": -4}, "value": -2.5}}},
    "text": {"field": "t"},
    "fill": {"field": "k", "type": "nominal", "scale": {"domain": ["txt", "FAM", "HEX"], "range": ["#000000", "#00b050", "#bf9000"]}, "legend": null}
   }}
 ]
}
]
}
